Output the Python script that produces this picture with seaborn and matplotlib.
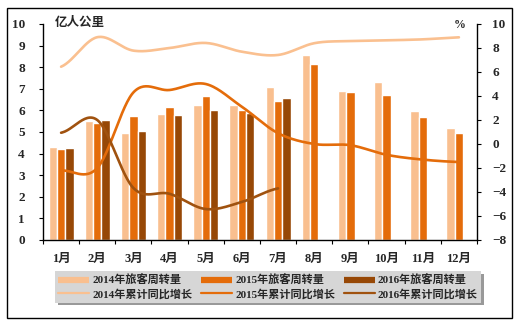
import numpy as np
import pandas as pd
import matplotlib
matplotlib.use("Agg")
import matplotlib.pyplot as plt
from matplotlib.lines import Line2D
from matplotlib.patches import Rectangle
import seaborn as sns

months = ["1月", "2月", "3月", "4月", "5月", "6月", "7月", "8月", "9月", "10月", "11月", "12月"]
vol_2014 = [4.32, 5.5, 4.97, 5.83, 6.25, 6.25, 7.07, 8.56, 6.91, 7.33, 5.97, 5.19]
vol_2015 = [4.22, 5.42, 5.75, 6.15, 6.67, 6.02, 6.43, 8.16, 6.87, 6.71, 5.71, 4.95]
vol_2016 = [4.28, 5.55, 5.05, 5.78, 6.02, 5.88, 6.57, None, None, None, None, None]
growth_2014 = [6.44, 8.9, 7.78, 8.0, 8.42, 7.69, 7.42, 8.4, 8.58, 8.64, 8.72, 8.89]
growth_2015 = [-2.2, -2.0, 4.3, 4.5, 5.0, 3.1, 0.9, 0.0, -0.1, -0.9, -1.3, -1.5]
growth_2016 = [0.94, 2.0, -3.67, -4.15, -5.42, -4.83, -3.7]

bar_names = ["2014年旅客周转量", "2015年旅客周转量", "2016年旅客周转量"]
line_names = ["2014年累计同比增长", "2015年累计同比增长", "2016年累计同比增长"]
bar_colors = ["#F9BF8F", "#E46C0A", "#974806"]
line_colors = ["#FAC090", "#E46C0A", "#A0520F"]

sns.set_theme(style="white")
FAM = ["Liberation Serif", "Noto Sans CJK SC", "DejaVu Sans"]
plt.rcParams["font.family"] = FAM
plt.rcParams["font.weight"] = "bold"

fig = plt.figure(figsize=(5.17, 3.27), dpi=100)
fig.patch.set_facecolor("white")
ax = fig.add_axes([43 / 517, 1 - 240 / 327, 434 / 517, 216 / 327])
ax.set_facecolor("white")

rows = []
for name, vals in zip(bar_names, [vol_2014, vol_2015, vol_2016]):
    for m, v in zip(months, vals):
        rows.append({"month": m, "series": name, "value": np.nan if v is None else v})
df = pd.DataFrame(rows)

sns.barplot(data=df, x="month", y="value", hue="series", order=months, hue_order=bar_names,
            palette=bar_colors, width=0.69, gap=0, saturation=1, ax=ax, legend=False,
            errorbar=None)
ax.set_xlim(-0.5, 11.5)
ax.set_ylim(0, 10)
ax.set_yticks(range(0, 11))
ax.set_xlabel("")
ax.set_ylabel("")
ax.set_xticks(range(12))
ax.set_xticklabels(months, fontsize=9, fontweight="bold", family=FAM)
ax.set_xticks(np.arange(-0.5, 12, 1), minor=True)
ax.tick_params(axis="x", which="major", length=0, pad=9)
ax.tick_params(axis="x", which="minor", length=3, direction="out", width=0.8, color="black", bottom=True)
ax.tick_params(axis="y", length=3, direction="out", width=0.8, color="black", left=True, labelsize=9.5, pad=10)
for lab in ax.get_yticklabels():
    lab.set_fontweight("bold")
for s in ["left", "bottom"]:
    ax.spines[s].set_color("black")
    ax.spines[s].set_linewidth(1.0)
ax.spines["top"].set_visible(False)
ax.spines["right"].set_visible(False)

ax2 = ax.twinx()
ax2.set_ylim(-8, 10)
ax2.set_yticks(range(-8, 11, 2))
ax2.tick_params(axis="y", length=3, direction="out", width=0.8, color="black", right=True, labelsize=9.5, pad=8)
for lab in ax2.get_yticklabels():
    lab.set_fontweight("bold")
ax2.spines["right"].set_color("black")
ax2.spines["right"].set_linewidth(1.0)
for s in ["top", "left", "bottom"]:
    ax2.spines[s].set_visible(False)
ax2.grid(False)


def smooth(y, n=30):
    y = np.asarray(y, dtype=float)
    x = np.arange(len(y), dtype=float)
    xs, ys = [], []
    for i in range(len(y) - 1):
        p0 = y[i - 1] if i > 0 else y[i]
        p3 = y[i + 2] if i + 2 < len(y) else y[i + 1]
        p1, p2 = y[i], y[i + 1]
        c1 = p1 + (p2 - p0) / 6
        c2 = p2 - (p3 - p1) / 6
        t = np.linspace(0, 1, n)
        yy = (1 - t) ** 3 * p1 + 3 * (1 - t) ** 2 * t * c1 + 3 * (1 - t) * t ** 2 * c2 + t ** 3 * p2
        xs.append(x[i] + t)
        ys.append(yy)
    return np.concatenate(xs), np.concatenate(ys)


for vals, col in zip([growth_2014, growth_2015, growth_2016], line_colors):
    sx, sy = smooth(vals)
    sns.lineplot(x=sx, y=sy, color=col, linewidth=1.9, ax=ax2, sort=False, estimator=None)

ax.set_zorder(1)
ax2.set_zorder(2)
ax2.patch.set_visible(False)

fig.text(55 / 517, 1 - 22 / 327, "亿人公里", fontsize=9, fontweight="bold", va="center", ha="left",
         family=["Noto Sans CJK SC", "DejaVu Sans"])
fig.text(460 / 517, 1 - 25 / 327, "%", fontsize=8.5, fontweight="bold", va="center", ha="center")

# outer frame
fig.add_artist(Rectangle((6.5 / 517, 1 - 318 / 327), 505.5 / 517, 310 / 327, transform=fig.transFigure,
                         fill=False, edgecolor="black", linewidth=1.0))

handles = []
labels = []
for i in range(3):
    handles.append(Line2D([0], [0], color=bar_colors[i], linewidth=4.5, solid_capstyle="butt"))
    labels.append(bar_names[i])
    handles.append(Line2D([0], [0], color=line_colors[i], linewidth=1.6))
    labels.append(line_names[i])
leg = fig.legend(handles, labels, ncol=3, loc="center", bbox_to_anchor=(268 / 517, 1 - 287 / 327),
                 frameon=True, fancybox=False, handlelength=2.8, handletextpad=0.25,
                 columnspacing=0.8, labelspacing=0.25, borderpad=0.3,
                 shadow={"color": "#999999", "alpha": 1},
                 prop={"weight": "bold", "size": 8.0, "family": FAM})
leg.get_frame().set_facecolor("#D6D6D6")
leg.get_frame().set_edgecolor("#D6D6D6")
leg.get_frame().set_alpha(1)
leg.get_frame().set_linewidth(0)
leg.set_zorder(5)

fig.savefig("out.png", dpi=100)
